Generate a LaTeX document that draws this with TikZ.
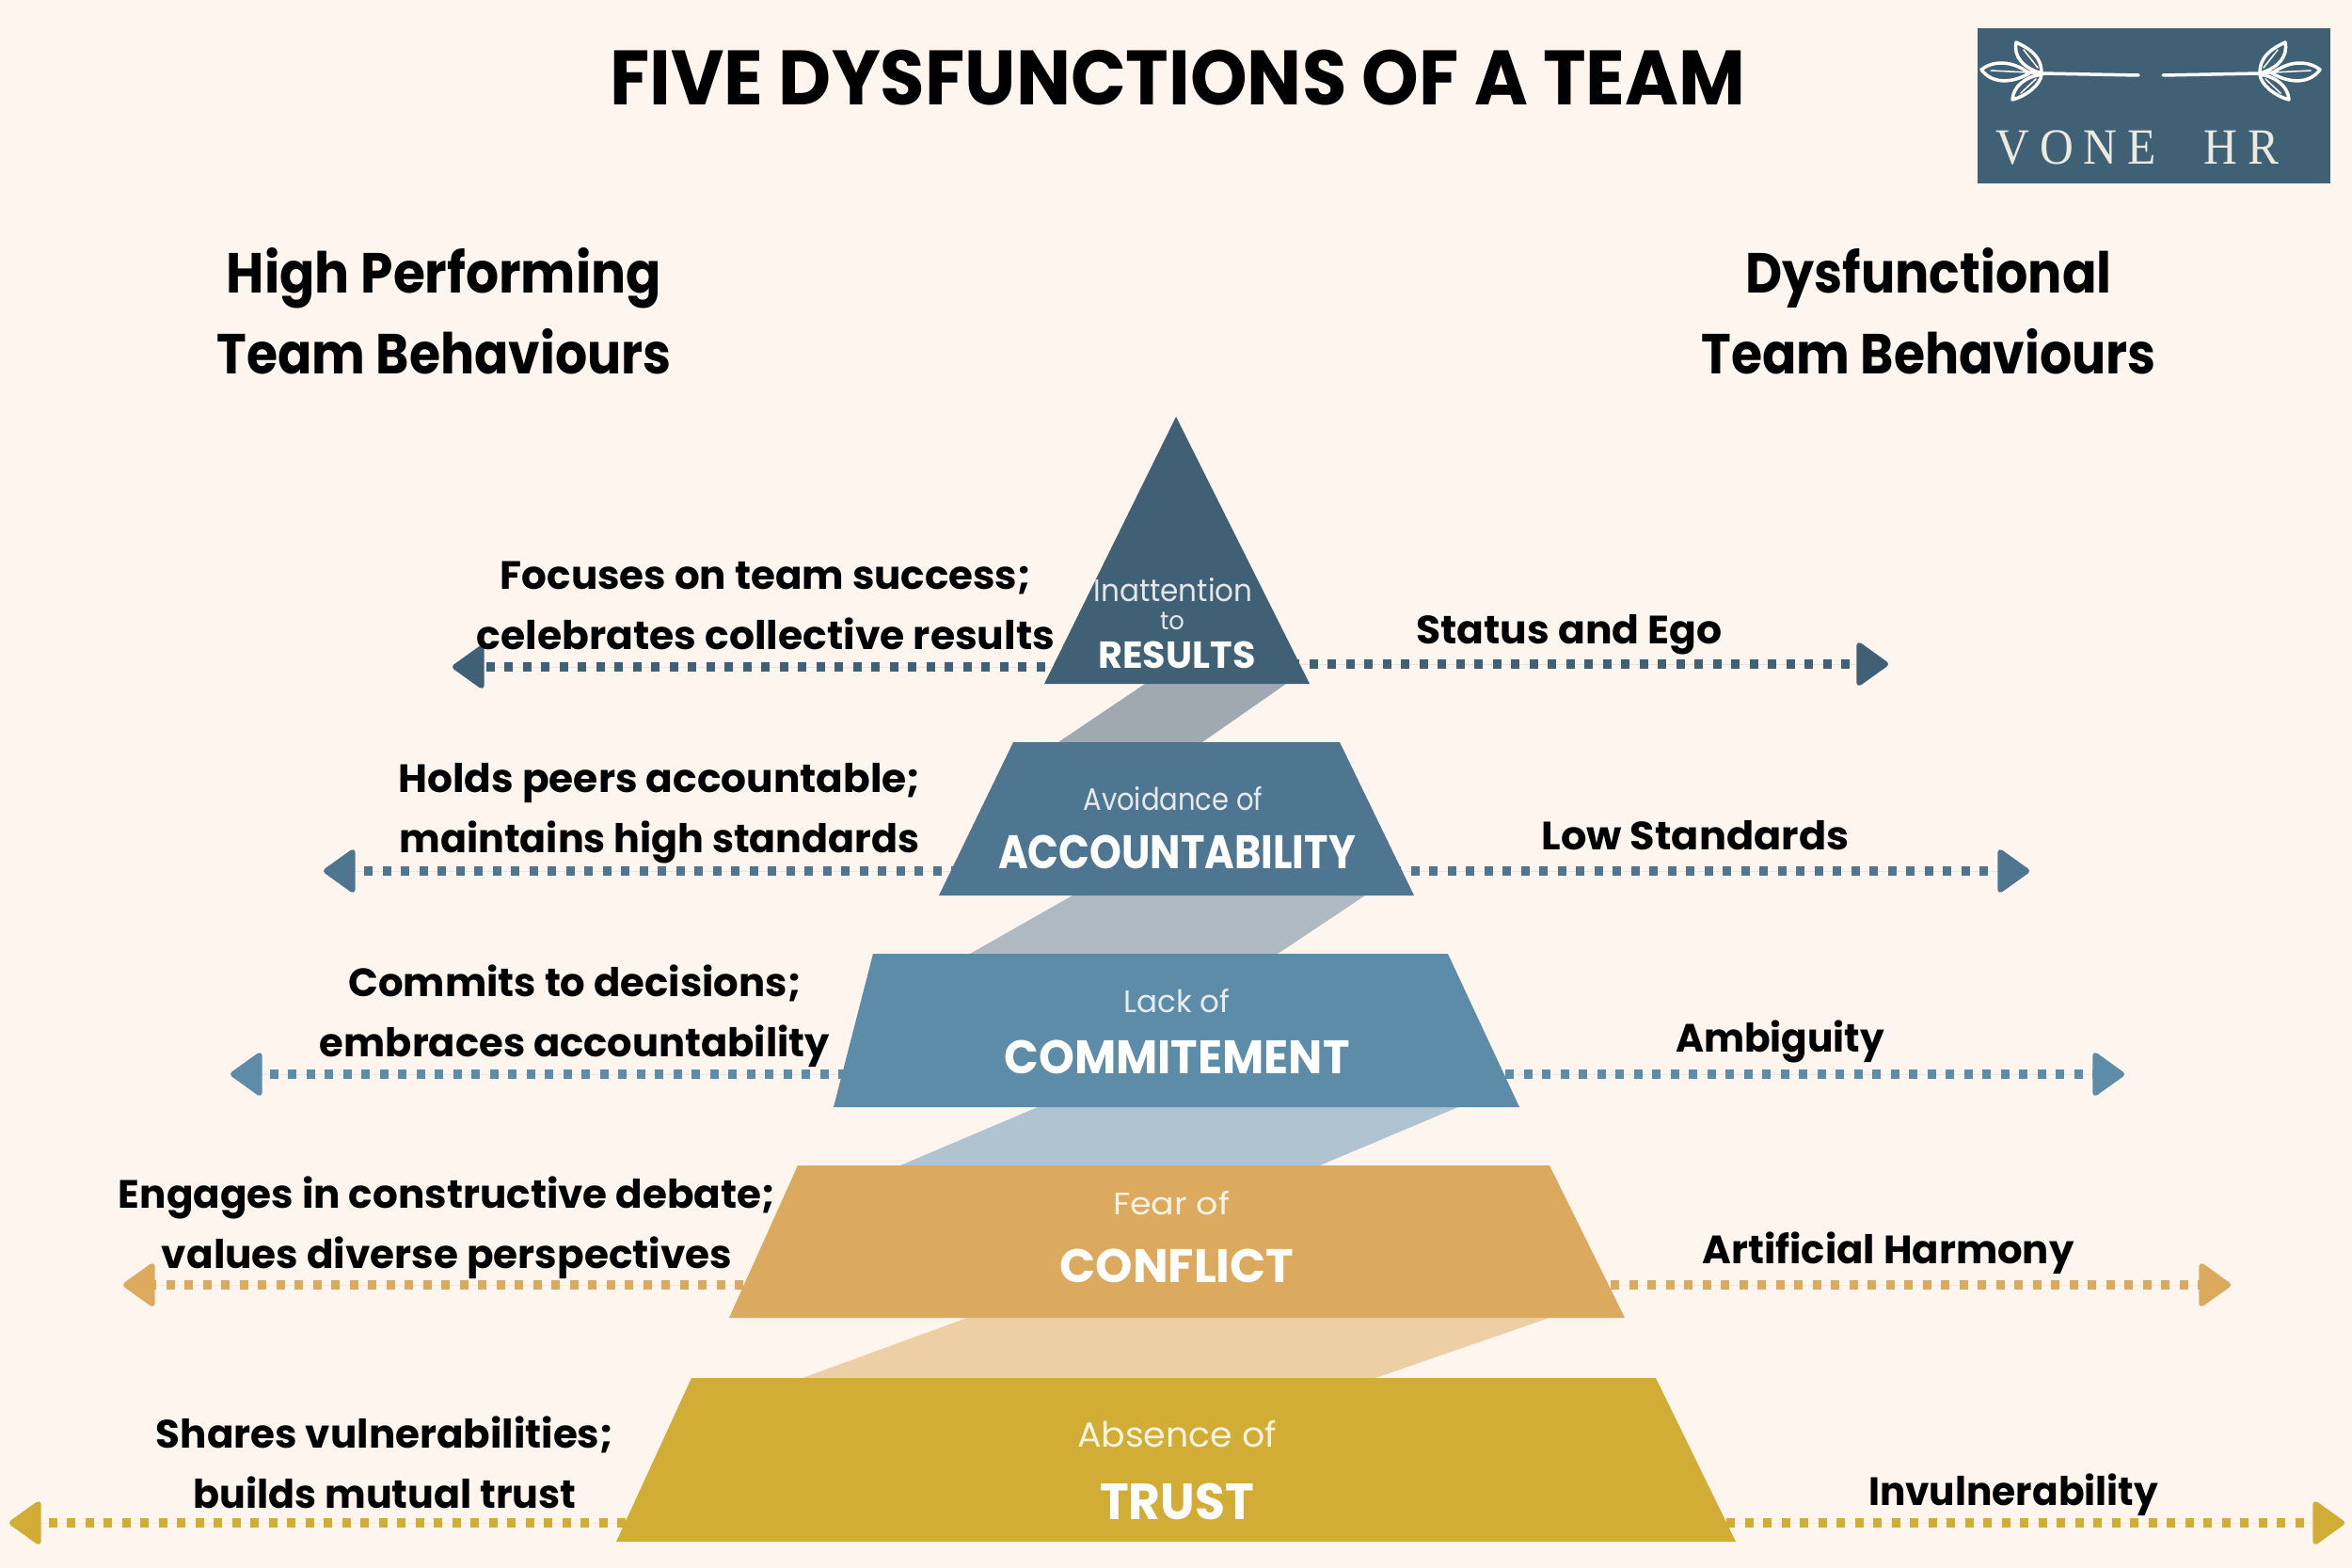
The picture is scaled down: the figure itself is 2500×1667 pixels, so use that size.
\documentclass[tikz,border=0pt]{standalone}
\usepackage{graphicx}
\usepackage{fontspec}
\setmainfont{Poppins}
\newfontfamily\logofont[LetterSpace=22]{Liberation Serif}
\usetikzlibrary{arrows.meta}
\definecolor{bgc}{HTML}{FEF5EF}
\definecolor{cresults}{HTML}{3F6075}
\definecolor{caccount}{HTML}{4F7690}
\definecolor{ccommit}{HTML}{5C8CA8}
\definecolor{cconflict}{HTML}{DCAA5E}
\definecolor{ctrust}{HTML}{D1AD35}
\definecolor{bandA}{HTML}{A0A9AF}
\definecolor{bandB}{HTML}{AEB9C1}
\definecolor{bandC}{HTML}{AFC3D0}
\definecolor{bandD}{HTML}{EDCFA5}
\definecolor{logotext}{HTML}{ECE9DF}
\newcommand{\fw}[2]{\resizebox{#1pt}{\height}{#2}}
\newcommand{\sz}[1]{\fontsize{#1}{#1}\selectfont}
\tikzset{
  dotline/.style={line width=10pt,dash pattern=on 9pt off 10.5pt,
    -{Triangle[round,length=36pt,width=50pt,line width=6pt]}},
  lbl/.style={inner sep=0pt,anchor=center,align=center,text=black,
    font=\fontsize{42}{64}\selectfont\bfseries},
  head/.style={inner sep=0pt,anchor=base,text=black,font=\sz{60}\bfseries},
  tiertop/.style={inner sep=0pt,anchor=base,text=white,opacity=.85,font=\sz{33}},
  tierbig/.style={inner sep=0pt,anchor=base,text=white,font=\sz{50}\bfseries},
  sprig/.style={draw=white,line width=3.5pt,line join=round,fill=none},
  vein/.style={draw=white,line width=1.5pt,line cap=round}
}
\begin{document}
\begin{tikzpicture}[x=1pt,y=-1pt]
\useasboundingbox (0,0) rectangle (2500,1667);
\fill[bgc] (0,0) rectangle (2500,1667);

% title
\node[inner sep=0pt,anchor=base,text=black,font=\sz{82}\bfseries] (title) at (1252,112) {\fw{1207}{FIVE DYSFUNCTIONS OF A TEAM}};

% logo
\fill[cresults] (2102,30) rectangle (2477,195);
\foreach \s in {1,-1}{
  \begin{scope}[shift={(2286,0)},xscale=\s]
    \draw[white,line width=3.5pt,line cap=round] (-130,77) -- (-116,78) -- (-13,80);
    \draw[sprig] (-129,78) .. controls (-150,62) and (-170,66) .. (-180,74) .. controls (-170,88) and (-150,90) .. (-129,78) -- cycle;
    \draw[vein] (-170,75) -- (-130,77);
    \draw[sprig] (-116,78) .. controls (-116,60) and (-128,52) .. (-143,45) .. controls (-146,60) and (-136,72) .. (-116,78) -- cycle;
    \draw[vein] (-120,72) -- (-135,53);
    \draw[sprig] (-116,79) .. controls (-117,90) and (-132,102) .. (-147,106) .. controls (-146,92) and (-134,82) .. (-116,79) -- cycle;
    \draw[vein] (-122,84) -- (-138,99);
  \end{scope}
}
\node[inner sep=0pt,anchor=base,text=logotext,font=\logofont\sz{54}] (logo) at (2272,175) {\fw{301}{VONE \hspace{30pt}HR}};

% column headings
\node[head] (hl1) at (472,311) {\fw{462}{High Performing}};
\node[head] (hl2) at (472,397) {\fw{483}{Team Behaviours}};
\node[head] (hr1) at (2050,311) {\fw{389}{Dysfunctional}};
\node[head] (hr2) at (2050,397) {\fw{483}{Team Behaviours}};

% connecting bands
\fill[bandA] (1217,727) -- (1367,727) -- (1278,789) -- (1125,789) -- cycle;
\fill[bandB] (1140,952) -- (1451,952) -- (1358,1014) -- (1031,1014) -- cycle;
\fill[bandC] (1103,1177) -- (1550,1177) -- (1403,1239) -- (957,1239) -- cycle;
\fill[bandD] (1028,1401) -- (1647,1401) -- (1462,1465) -- (853,1465) -- cycle;

% connector anchors on the tier edges
\coordinate (rL) at (1130,709); \coordinate (rLt) at (481,709);
\coordinate (rR) at (1372,706); \coordinate (rRt) at (2007,706);
\coordinate (aL) at (1020,926); \coordinate (aLt) at (344,926);
\coordinate (aR) at (1480,926); \coordinate (aRt) at (2157,926);
\coordinate (cL) at (900,1142); \coordinate (cLt) at (245,1142);
\coordinate (cR) at (1600,1142); \coordinate (cRt) at (2258,1142);
\coordinate (fL) at (790,1366); \coordinate (fLt) at (131,1366);
\coordinate (fR) at (1712,1366); \coordinate (fRt) at (2371,1366);
\coordinate (tL) at (665,1619); \coordinate (tLt) at (10,1619);
\coordinate (tR) at (1835,1619); \coordinate (tRt) at (2492,1619);

\draw[dotline,draw=cresults,fill=cresults] (rL) -- (rLt);
\draw[dotline,draw=cresults,fill=cresults] (rR) -- (rRt);
\draw[dotline,draw=caccount,fill=caccount] (aL) -- (aLt);
\draw[dotline,draw=caccount,fill=caccount] (aR) -- (aRt);
\draw[dotline,draw=ccommit,fill=ccommit] (cL) -- (cLt);
\draw[dotline,draw=ccommit,fill=ccommit] (cR) -- (cRt);
\draw[dotline,draw=cconflict,fill=cconflict] (fL) -- (fLt);
\draw[dotline,draw=cconflict,fill=cconflict] (fR) -- (fRt);
\draw[dotline,draw=ctrust,fill=ctrust] (tL) -- (tLt);
\draw[dotline,draw=ctrust,fill=ctrust] (tR) -- (tRt);

% tiers
\fill[cresults] (1250,443) -- (1392,727) -- (1110,727) -- cycle;
\fill[caccount] (1077,789) -- (1424,789) -- (1503,952) -- (998,952) -- cycle;
\fill[ccommit] (928,1014) -- (1539,1014) -- (1615,1177) -- (886,1177) -- cycle;
\fill[cconflict] (848,1239) -- (1647,1239) -- (1727,1401) -- (775,1401) -- cycle;
\fill[ctrust] (735,1465) -- (1760,1465) -- (1845,1639) -- (655,1639) -- cycle;

% tier texts
\node[tiertop] (r1) at (1247,639) {\fw{169}{Inattention}};
\node[tiertop,font=\sz{27}] (r2) at (1246,669) {\fw{26}{to}};
\node[tierbig,font=\sz{40}\bfseries] (r3) at (1251,710) {\fw{167}{RESULTS}};
\node[tiertop] (a1) at (1247,861) {\fw{191}{Avoidance of}};
\node[tierbig] (a2) at (1251,923) {\fw{380}{ACCOUNTABILITY}};
\node[tiertop] (c1) at (1251,1076) {\fw{113}{Lack of}};
\node[tierbig] (c2) at (1251,1141) {\fw{367}{COMMITEMENT}};
\node[tiertop] (f1) at (1245,1291) {\fw{124}{Fear of}};
\node[tierbig] (f2) at (1251,1363) {\fw{249}{CONFLICT}};
\node[tiertop,font=\sz{37}] (t1) at (1251,1538) {\fw{212}{Absence of}};
\node[tierbig,font=\sz{54}\bfseries] (t2) at (1251,1615) {\fw{164}{TRUST}};

% left labels
\node[lbl] (lr) at (814,646) {\strut\fw{564}{Focuses on team success;}\\\strut\fw{614}{celebrates collective results}};
\node[lbl] (la) at (701,862) {\strut\fw{555}{Holds peers accountable;}\\\strut\fw{553}{maintains high standards}};
\node[lbl] (lc) at (611,1079) {\strut\fw{481}{Commits to decisions;}\\\strut\fw{542}{embraces accountability}};
\node[lbl] (lf) at (475,1304) {\strut\fw{698}{Engages in constructive debate;}\\\strut\fw{606}{values diverse perspectives}};
\node[lbl] (lt) at (409,1559) {\strut\fw{486}{Shares vulnerabilities;}\\\strut\fw{407}{builds mutual trust}};

% right labels
\node[lbl] (rr) at (1668,672) {\strut\fw{325}{Status and Ego}};
\node[lbl] (ra) at (1802,891) {\strut\fw{327}{Low Standards}};
\node[lbl] (rc) at (1892,1106) {\strut\fw{222}{Ambiguity}};
\node[lbl] (rf) at (2007,1331) {\strut\fw{395}{Artificial Harmony}};
\node[lbl] (rt) at (2140,1588) {\strut\fw{308}{Invulnerability}};
\end{tikzpicture}
\end{document}
